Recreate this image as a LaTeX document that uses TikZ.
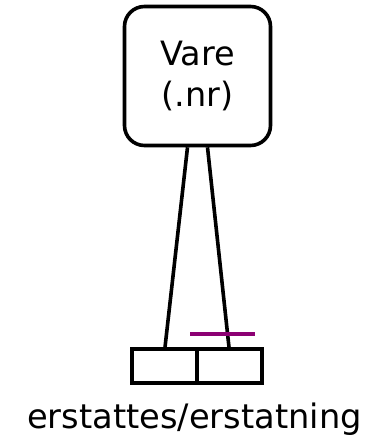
\documentclass[tikz,border=0pt]{standalone}
\usepackage{fontspec}
\setmainfont{DejaVu Sans}
\begin{document}
\begin{tikzpicture}[x=1pt,y=-1pt,
  entity/.style={draw,line width=3.6pt,rounded corners=20pt,minimum width=146pt,minimum height=139pt,
    align=center,inner sep=0pt,font=\fontsize{33.5}{43}\selectfont},
  keybox/.style={draw,line width=3.4pt,minimum width=65pt,minimum height=34pt,inner sep=0pt},
  link/.style={line width=3.6pt},
  bar/.style={draw=violet!80!purple,line width=4.5pt},
  caption/.style={anchor=base,inner sep=0pt,font=\fontsize{33.7}{40}\selectfont}]
\useasboundingbox (0,0) rectangle (374,435);
% entity Vare
\node[entity] (vare) at (197.5,76) {Vare\\[-2pt](.nr)};
% composite key boxes
\node[keybox] (kl) at (164.5,366) {};
\node[keybox] (kr) at (229.5,366) {};
% connector end points on the entity's bottom edge
\coordinate (vl) at ([xshift=-10pt]vare.south);
\coordinate (vr) at ([xshift=10pt]vare.south);
\draw[link] (vl) -- (kl.north -| 165,0);
\draw[link] (vr) -- (kr.north -| 229,0);
% identifying bar across the right connector
\coordinate (b1) at (190,334);
\coordinate (b2) at (255,334);
\draw[bar] (b1) -- (b2);
\node[caption] (lbl) at (194.5,428) {erstattes/erstatning};
\end{tikzpicture}
\end{document}
